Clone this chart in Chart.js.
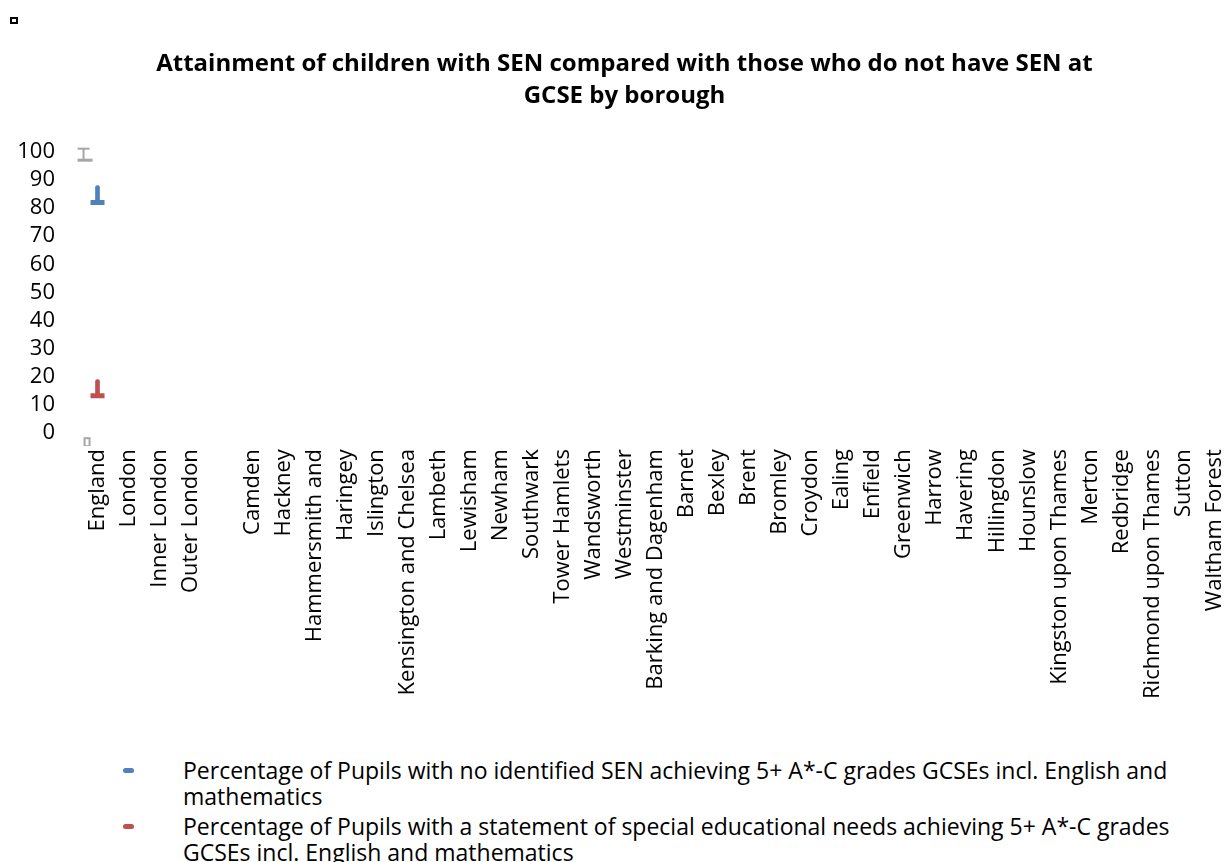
<!DOCTYPE html>
<html>
<head>
<meta charset="utf-8">
<script src="https://cdn.jsdelivr.net/npm/chart.js@4/dist/chart.umd.min.js"></script>
<style>
  body { margin: 0; background: #fff; overflow: hidden; font-family: "Open Sans", sans-serif; }
  #marco { position: relative; width: 1224px; height: 862px; overflow: hidden; }
  #grafico { position: absolute; left: 0; top: 0; }
  #cuadrito { position: absolute; left: 10px; top: 17px; width: 4px; height: 3px; border: 2px solid #000; }
  #leyenda { position: absolute; left: 120px; top: 757px; width: 1090px; font-size: 23px; line-height: 26px; color: #000; }
  .item { position: relative; padding-left: 63px; margin-bottom: 4px; }
  .marca { position: absolute; left: 3px; top: 11px; width: 11px; height: 5px; border-radius: 3px; }
</style>
</head>
<body>
<div id="marco">
  <canvas id="grafico" width="1249" height="707"></canvas>
  <div id="cuadrito"></div>
  <div id="leyenda"></div>
</div>
<script>
// Categorias del eje X (el hueco vacio va entre Outer London y Camden)
const categorias = [
  "England", "London", "Inner London", "Outer London", "",
  "Camden", "Hackney", "Hammersmith and", "Haringey", "Islington",
  "Kensington and Chelsea", "Lambeth", "Lewisham", "Newham", "Southwark",
  "Tower Hamlets", "Wandsworth", "Westminster", "Barking and Dagenham", "Barnet",
  "Bexley", "Brent", "Bromley", "Croydon", "Ealing",
  "Enfield", "Greenwich", "Harrow", "Havering", "Hillingdon",
  "Hounslow", "Kingston upon Thames", "Merton", "Redbridge", "Richmond upon Thames",
  "Sutton", "Waltham Forest"
];

// solo England tiene datos en la imagen
const sinSEN      = [82, null, null, null, null, null, null, null, null, null, null, null, null, null, null, null, null, null, null, null, null, null, null, null, null, null, null, null, null, null, null, null, null, null, null, null, null];
const sinSENTope  = [88, null, null, null, null, null, null, null, null, null, null, null, null, null, null, null, null, null, null, null, null, null, null, null, null, null, null, null, null, null, null, null, null, null, null, null, null];
const conSEN      = [13.3, null, null, null, null, null, null, null, null, null, null, null, null, null, null, null, null, null, null, null, null, null, null, null, null, null, null, null, null, null, null, null, null, null, null, null, null];
const conSENTope  = [19, null, null, null, null, null, null, null, null, null, null, null, null, null, null, null, null, null, null, null, null, null, null, null, null, null, null, null, null, null, null, null, null, null, null, null, null];
const grisAlto    = [99, null, null, null, null, null, null, null, null, null, null, null, null, null, null, null, null, null, null, null, null, null, null, null, null, null, null, null, null, null, null, null, null, null, null, null, null];
const grisBajo    = [0, null, null, null, null, null, null, null, null, null, null, null, null, null, null, null, null, null, null, null, null, null, null, null, null, null, null, null, null, null, null, null, null, null, null, null, null];

const etiquetas = [
  "Percentage of Pupils with no identified SEN achieving 5+ A*-C grades GCSEs incl. English and mathematics",
  "Percentage of Pupils with a statement of special educational needs achieving 5+ A*-C grades GCSEs incl. English and mathematics"
];
const titulo = ["Attainment of children with SEN compared with those who do not have SEN at", "GCSE by borough"];

const AZUL = "#4f81bd";
const ROJO = "#c0504d";
const GRIS = "#a6a6a6";

// rangos [base, tope] para las barritas verticales
function rango(base, tope) {
  return base.map((v, i) => v === null ? null : [v, tope[i]]);
}

// dibujitos grises (marcas sueltas a la izquierda de England)
function marcaI() {
  const c = document.createElement("canvas");
  c.width = 44; c.height = 16;
  const g = c.getContext("2d");
  g.fillStyle = GRIS;
  g.fillRect(2, 1, 12, 2);
  g.fillRect(7, 3, 2, 10);
  g.fillRect(2, 12, 15, 3);
  return c;
}
function marcaCaja() {
  const c = document.createElement("canvas");
  c.width = 34; c.height = 26;
  const g = c.getContext("2d");
  g.strokeStyle = GRIS;
  g.lineWidth = 2;
  g.strokeRect(4, 18, 5, 8);
  return c;
}

Chart.defaults.font.family = "'Open Sans', sans-serif";
Chart.defaults.color = "#000";

const ctx = document.getElementById("grafico").getContext("2d");
new Chart(ctx, {
  type: "bar",
  data: {
    labels: categorias,
    datasets: [
      {
        type: "line",
        label: etiquetas[0],
        data: sinSEN,
        showLine: false,
        pointStyle: "line",
        pointRadius: 7,
        pointBorderWidth: 5,
        borderColor: AZUL,
        backgroundColor: AZUL,
        order: 1
      },
      {
        type: "line",
        label: etiquetas[1],
        data: conSEN,
        showLine: false,
        pointStyle: "line",
        pointRadius: 7,
        pointBorderWidth: 5,
        borderColor: ROJO,
        backgroundColor: ROJO,
        order: 1
      },
      {
        label: "tope1",
        data: rango(sinSEN, sinSENTope),
        backgroundColor: AZUL,
        barThickness: 4,
        grouped: false,
        borderRadius: 2,
        borderSkipped: false,
        order: 2
      },
      {
        label: "tope2",
        data: rango(conSEN, conSENTope),
        backgroundColor: ROJO,
        barThickness: 4,
        grouped: false,
        borderRadius: 2,
        borderSkipped: false,
        order: 2
      },
      {
        type: "line",
        label: "gris1",
        data: grisAlto,
        showLine: false,
        pointStyle: marcaI(),
        clip: false
      },
      {
        type: "line",
        label: "gris2",
        data: grisBajo,
        showLine: false,
        pointStyle: marcaCaja(),
        clip: false
      }
    ]
  },
  options: {
    responsive: false,
    animation: false,
    layout: { padding: 0 },
    scales: {
      x: {
        grid: { display: false },
        border: { display: false },
        ticks: {
          autoSkip: false,
          minRotation: 90,
          maxRotation: 90,
          padding: 8,
          font: { size: 22 }
        }
      },
      y: {
        min: 0,
        max: 100,
        grid: { display: false },
        border: { display: false },
        afterFit: (escala) => { escala.width = 82; },
        ticks: {
          stepSize: 10,
          autoSkip: false,
          maxTicksLimit: 11,
          padding: 19,
          font: { size: 22, lineHeight: 1 }
        }
      }
    },
    plugins: {
      legend: { display: false },
      tooltip: { enabled: false },
      title: {
        display: true,
        text: titulo,
        font: { size: 24, weight: "bold", lineHeight: 1.33 },
        padding: { top: 48, bottom: 40 }
      }
    }
  }
});

// leyenda en HTML para que el texto largo se parta en dos lineas
const leyenda = document.getElementById("leyenda");
[AZUL, ROJO].forEach((color, i) => {
  const item = document.createElement("div");
  item.className = "item";
  const marca = document.createElement("span");
  marca.className = "marca";
  marca.style.background = color;
  item.appendChild(marca);
  item.appendChild(document.createTextNode(etiquetas[i]));
  leyenda.appendChild(item);
});
</script>
</body>
</html>
